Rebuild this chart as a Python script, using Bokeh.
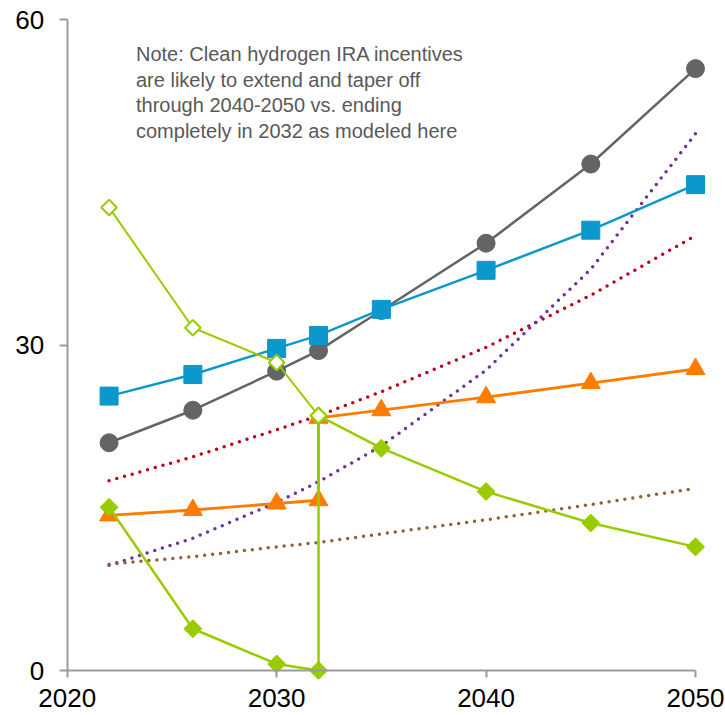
import numpy as np
from bokeh.plotting import figure
from bokeh.models import Range1d, FixedTicker, Label
from bokeh.embed import file_html
from bokeh.resources import INLINE

# ---- data ----
years_main = [2022, 2026, 2030, 2032, 2035, 2040, 2045, 2050]
gray_vals = [21.0, 24.0, 27.6, 29.5, 33.2, 39.4, 46.7, 55.5]
blue_vals = [25.3, 27.3, 29.7, 30.9, 33.3, 36.9, 40.6, 44.8]

step_years = [2022, 2026, 2030, 2032, 2032, 2035, 2040, 2045, 2050]
orange_vals = [14.3, 14.8, 15.4, 15.7, 23.3, 24.0, 25.2, 26.5, 27.8]
green_vals = [15.05, 3.85, 0.6, 0.0, 23.5, 20.5, 16.5, 13.6, 11.4]

open_years = [2022, 2026, 2030, 2032]
open_vals = [42.7, 31.6, 28.4, 23.5]

trend_years = [2022, 2026, 2030, 2032, 2035, 2040, 2045, 2050]
red_trend = [17.5, 19.7, 22.2, 23.5, 25.7, 29.8, 34.6, 40.1]
purple_trend = [9.7, 12.2, 15.5, 17.4, 20.7, 27.7, 37.0, 49.5]
brown_trend = [9.8, 10.5, 11.4, 11.8, 12.6, 13.9, 15.3, 16.8]

x_ticks = [2020, 2030, 2040, 2050]
y_ticks = [0, 30, 60]

note_lines = [
    "Note: Clean hydrogen IRA incentives",
    "are likely to extend and taper off",
    "through 2040-2050 vs. ending",
    "completely in 2032 as modeled here",
]

# ---- colours ----
GRAY = "#646466"
BLUE = "#0B98CC"
ORANGE = "#FF7C00"
GREEN = "#99CC00"
RED = "#C0001A"
PURPLE = "#7030A0"
BROWN = "#8C6239"
AXIS = "#9B9B9B"
FONT = "Liberation Sans"

# ---- layout (pixels) ----
W, H = 725, 715
X0_PX, X1_PX = 66.7, 695.0      # 2020 and 2050
Y0_PX, Y1_PX = 670.0, 19.3      # 0 and 60
xs = (X1_PX - X0_PX) / (x_ticks[-1] - x_ticks[0])
ys = (Y0_PX - Y1_PX) / (y_ticks[-1] - y_ticks[0])
x_start = x_ticks[0] - X0_PX / xs
x_end = x_ticks[0] + (W - X0_PX) / xs
y_end = y_ticks[-1] + Y1_PX / ys
y_start = y_ticks[0] - (H - Y0_PX) / ys

p = figure(width=W, height=H,
           x_range=Range1d(x_start, x_end), y_range=Range1d(y_start, y_end),
           output_backend="svg", toolbar_location=None,
           min_border_left=0, min_border_right=0, min_border_top=0, min_border_bottom=0)

p.outline_line_color = None
p.xgrid.grid_line_color = None
p.ygrid.grid_line_color = None
p.background_fill_color = "white"
p.border_fill_color = "white"

for ax in (p.xaxis[0], p.yaxis[0]):
    ax.axis_line_color = AXIS
    ax.axis_line_width = 2
    ax.major_tick_line_color = AXIS
    ax.major_tick_line_width = 2
    ax.major_tick_in = 0
    ax.minor_tick_line_color = None
    ax.major_label_text_font = FONT
    ax.major_label_text_font_size = "26px"
    ax.major_label_text_color = "black"

p.xaxis.ticker = FixedTicker(ticks=x_ticks)
p.yaxis.ticker = FixedTicker(ticks=y_ticks)
p.xaxis.bounds = (x_ticks[0], x_ticks[-1])
p.yaxis.bounds = (y_ticks[0], y_ticks[-1])
p.xaxis.fixed_location = y_ticks[0]
p.yaxis.fixed_location = x_ticks[0]
p.xaxis.major_tick_out = 7
p.xaxis.major_label_standoff = 11
p.yaxis.major_tick_out = 8
p.yaxis.major_label_standoff = 15

# dotted trend lines
for vals, col in ((red_trend, RED), (purple_trend, PURPLE), (brown_trend, BROWN)):
    p.line(trend_years, vals, line_color=col, line_width=3.5,
           line_dash="0 8", line_cap="round")

# gray circles
p.line(years_main, gray_vals, line_color=GRAY, line_width=2.5)
p.scatter(years_main, gray_vals, marker="circle", size=18,
          fill_color=GRAY, line_color=GRAY)

# blue squares
p.line(years_main, blue_vals, line_color=BLUE, line_width=2.5)
p.scatter(years_main, blue_vals, marker="square", size=18,
          fill_color=BLUE, line_color=BLUE)

# orange triangles
p.line(step_years, orange_vals, line_color=ORANGE, line_width=2.8)
p.scatter(step_years, orange_vals, marker="triangle", size=19,
          fill_color=ORANGE, line_color=ORANGE)

# green filled diamonds
p.line(step_years, green_vals, line_color=GREEN, line_width=2.5)
p.scatter(step_years, green_vals, marker="square", angle=np.pi / 4, size=12,
          fill_color=GREEN, line_color=GREEN, line_width=1.5)

# green open diamonds
p.line(open_years, open_vals, line_color=GREEN, line_width=2)
p.scatter(open_years, open_vals, marker="square", angle=np.pi / 4, size=11,
          fill_color="white", line_color=GREEN, line_width=2)

# note text
x_note = x_ticks[0] + (135.5 - X0_PX) / xs
for i, line in enumerate(note_lines):
    base_px = 53.5 + i * 25.7
    p.add_layout(Label(x=x_note, y=(Y0_PX - base_px) / ys, text=line,
                       text_font=FONT, text_font_size="20px",
                       text_color="#595959", text_baseline="alphabetic",
                       text_align="left"))

open("out.html", "w").write(file_html(p, INLINE))
